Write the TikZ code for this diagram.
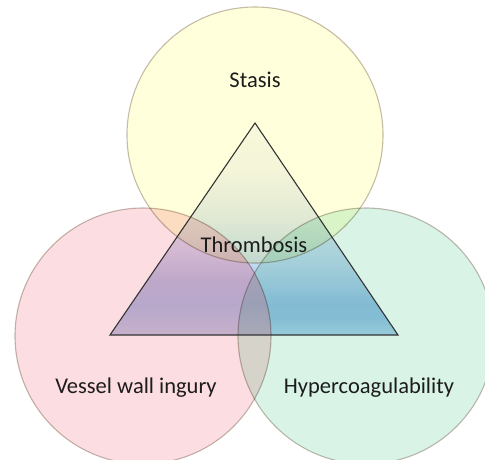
\documentclass[tikz,border=0pt]{standalone}
\usepackage{fontspec}
\setmainfont{Carlito}
\definecolor{stasisfill}{HTML}{FFFFDC}
\definecolor{injuryfill}{HTML}{FCDDE1}
\definecolor{coagfill}{HTML}{D9F4E7}
\definecolor{ringline}{HTML}{C6BCB2}
\definecolor{inkcol}{HTML}{1C1C1C}
% tint stops of the triangle (multiplied over the circles);
% the shaded box runs from 25bp (base, y=335) to 75bp (apex, y=123)
\definecolor{tA}{HTML}{F8F8FC}
\definecolor{tB}{HTML}{F4F5FC}
\definecolor{tC}{HTML}{E2EAF6}
\definecolor{tD}{HTML}{C0D8F0}
\definecolor{tE}{HTML}{99C4EA}
\definecolor{tF}{HTML}{9CC6EA}
\definecolor{tG}{HTML}{B3D5F1}
\definecolor{pD}{HTML}{D6D6EE}
\definecolor{pE}{HTML}{C2C2E6}
\definecolor{pF}{HTML}{BAC2E7}
\definecolor{pG}{HTML}{CACCE7}
\pgfdeclareverticalshading{triblue}{100bp}{%
  color(0bp)=(tG); color(25bp)=(tG); color(29bp)=(tF); color(32.1bp)=(tE);
  color(41.5bp)=(tD); color(53.3bp)=(tC); color(63.9bp)=(tB);
  color(75bp)=(tA); color(100bp)=(tA)}
\pgfdeclareverticalshading{tripurple}{100bp}{%
  color(0bp)=(pG); color(25bp)=(pG); color(32.1bp)=(pF); color(38bp)=(pE);
  color(45bp)=(pD); color(53.3bp)=(tC); color(63.9bp)=(tB);
  color(75bp)=(tA); color(100bp)=(tA)}
\tikzset{
  factor/.style={circle, minimum size=256pt, inner sep=0pt, draw=ringline, line width=1.1pt},
  lbl/.style={font=\fontsize{22.5}{26}\selectfont, text=inkcol, inner sep=0pt},
  edge/.style={draw=inkcol!90, line width=1.1pt, line join=miter}
}
\begin{document}
\begin{tikzpicture}[x=1pt,y=-1pt]
\useasboundingbox (0,0) rectangle (485,459);
% triangle corners
\coordinate (apex)  at (255,123);
\coordinate (left)  at (110,335);
\coordinate (right) at (398,335);
\begin{scope}[blend mode=multiply]
  \node[factor, fill=stasisfill] (stasis) at (255,135) {};
  \node[factor, fill=injuryfill] (injury) at (143,336) {};
  \node[factor, fill=coagfill]   (coag)   at (366,336) {};
  \begin{scope}
    \clip (apex) -- (left) -- (right) -- cycle;
    % outside the injury circle: blue tint
    \begin{scope}[even odd rule]
      \clip (100,110) rectangle (410,345) (143,336) circle[radius=128];
      \shade[shading=triblue] (110,123) rectangle (398,335);
    \end{scope}
    % inside the injury circle: violet tint
    \begin{scope}
      \clip (143,336) circle[radius=128];
      \shade[shading=tripurple] (110,123) rectangle (398,335);
    \end{scope}
  \end{scope}
\end{scope}
\draw[edge] (apex) -- (left) -- (right) -- cycle;
\node[lbl] (tstasis) at (255,80) {Stasis};
\node[lbl] (tthromb) at (254,245) {Thrombosis};
\node[lbl] (tinjury) at (136,388) {Vessel wall ingury};
\node[lbl] (tcoag)   at (369,388) {Hypercoagulability};
\end{tikzpicture}
\end{document}
